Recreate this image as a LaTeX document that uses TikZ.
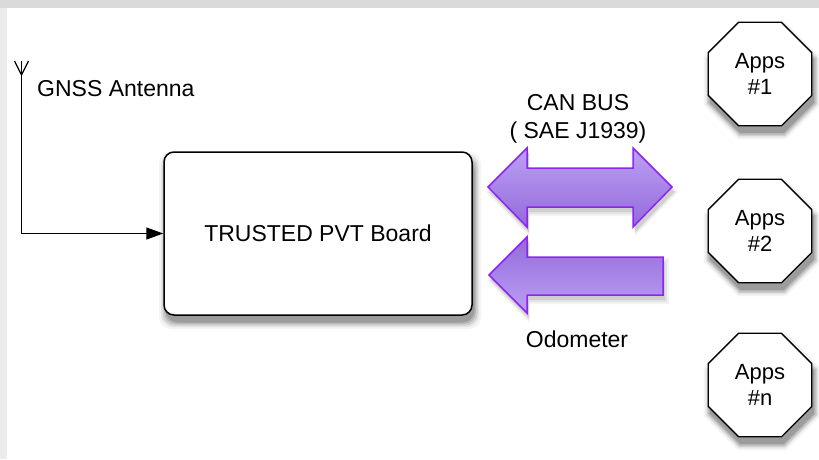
\documentclass[tikz,border=0pt]{standalone}
\usepackage{fontspec}
\setmainfont{Liberation Sans}
\usetikzlibrary{shapes.geometric,arrows.meta}
\definecolor{arrowline}{HTML}{8E24F2}
\definecolor{arrowlight}{HTML}{BBA0F4}
\definecolor{arrowdark}{HTML}{946ADB}
\definecolor{shA}{HTML}{F4F4F4}
\definecolor{shB}{HTML}{E4E4E4}
\definecolor{shC}{HTML}{CFCFCF}
\definecolor{shD}{HTML}{B8B8B8}
\definecolor{shE}{HTML}{9C9C9C}
\definecolor{frameside}{HTML}{ECECEC}
\definecolor{frametop}{HTML}{DADADA}
\tikzset{
  lbl/.style={font=\fontsize{23}{28}\selectfont, inner sep=0pt, align=center},
  board/.style={draw=black, line width=1.5pt, fill=white, rounded corners=10pt,
    minimum width=308pt, minimum height=163pt, inner sep=0pt,
    font=\fontsize{23}{28}\selectfont},
  app/.style={regular polygon, regular polygon sides=8, draw=black, line width=1.3pt,
    fill=white, minimum size=112pt, inner sep=0pt, align=center,
    font=\fontsize{22}{26}\selectfont},
  fatarrow/.style={draw=arrowline, line width=1.5pt, line join=miter},
  wire/.style={line width=1.3pt, black}
}
\newcommand{\octlayer}[4]{% cx, cy, radius, colour
  \fill[#4] ({#1+#3*cos(22.5)},{#2+#3*sin(22.5)}) -- ({#1+#3*cos(67.5)},{#2+#3*sin(67.5)})
   -- ({#1+#3*cos(112.5)},{#2+#3*sin(112.5)}) -- ({#1+#3*cos(157.5)},{#2+#3*sin(157.5)})
   -- ({#1+#3*cos(202.5)},{#2+#3*sin(202.5)}) -- ({#1+#3*cos(247.5)},{#2+#3*sin(247.5)})
   -- ({#1+#3*cos(292.5)},{#2+#3*sin(292.5)}) -- ({#1+#3*cos(337.5)},{#2+#3*sin(337.5)}) -- cycle;}
\newcommand{\octshadow}[2]{%
  \octlayer{#1+2}{#2+7}{63}{shA}%
  \octlayer{#1+2}{#2+7}{61}{shB}%
  \octlayer{#1+2}{#2+7}{59.5}{shC}%
  \octlayer{#1+2}{#2+7}{58}{shD}%
  \octlayer{#1+2}{#2+7}{56.5}{shE}}
\newcommand{\boardlayer}[2]{%
  \fill[#2, rounded corners=12pt] ({166-#1},{159-#1}) rectangle ({474+#1},{322+#1});}
\newcommand{\canlayer}[2]{%
  \fill[#2] ({490-#1},192) -- (529,{153-#1}) -- (529,{173-#1}) -- (635,{173-#1}) -- (635,{153-#1}) -- ({674+#1},192)
    -- (635,{232+#1}) -- (635,{212+#1}) -- (529,{212+#1}) -- (529,{232+#1}) -- cycle;}
\newcommand{\odolayer}[2]{%
  \fill[#2] ({491-#1},280) -- (529,{242-#1}) -- (529,{262-#1}) -- ({665+#1},{262-#1}) -- ({665+#1},{300+#1}) -- (529,{300+#1})
    -- (529,{318+#1}) -- cycle;}
\begin{document}
\begin{tikzpicture}[x=1pt,y=-1pt]
\useasboundingbox (0,0) rectangle (819,459);
% background frame
\fill[frameside] (0,0) rectangle (819,459);
\fill[frametop] (0,0) rectangle (819,8);
\fill[white] (7,8) rectangle (819,459);

% shadows
\boardlayer{7}{shA}
\boardlayer{5}{shB}
\boardlayer{3.5}{shC}
\boardlayer{2}{shD}
\boardlayer{0.5}{shE}
\canlayer{4}{shA}
\canlayer{2}{shB}
\canlayer{0}{shC}
\odolayer{4}{shA}
\odolayer{2}{shB}
\odolayer{0}{shC}
\octshadow{760}{74}
\octshadow{760}{231}
\octshadow{760}{385}

% board
\node[board] (pvt) at (318,233.5) {TRUSTED PVT Board};

% antenna
\coordinate (anttop) at (21.5,61);
\coordinate (antl) at (14.5,61);
\coordinate (antr) at (28.5,61);
\coordinate (antj) at (21.5,75);
\coordinate (antc) at (21.5,233.5);
\draw[wire] (antl) -- (antj) -- (antr);
\draw[wire, -{Triangle[length=17pt,width=12pt]}] (anttop) -- (antc) -- (pvt.west);
\node[lbl, anchor=west] (gnss) at (37,89) {GNSS Antenna};

% CAN bus double arrow
\path[fatarrow, top color=arrowlight, bottom color=arrowdark]
  (488,187) -- (527,148) -- (527,168) -- (633,168) -- (633,148) -- (672,187)
  -- (633,227) -- (633,207) -- (527,207) -- (527,227) -- cycle;
\node[lbl] (can) at (578,119) {CAN BUS\\( SAE J1939)};

% odometer arrow
\path[fatarrow, top color=arrowdark, bottom color=arrowlight]
  (489,275) -- (527,237) -- (527,257) -- (663,257) -- (663,295) -- (527,295)
  -- (527,313) -- cycle;
\node[lbl] (odo) at (577,339) {Odometer};

% apps
\node[app] (app1) at (760,74) {Apps\\\#1};
\node[app] (app2) at (760,231) {Apps\\\#2};
\node[app] (appn) at (760,385) {Apps\\\#n};
\end{tikzpicture}
\end{document}
